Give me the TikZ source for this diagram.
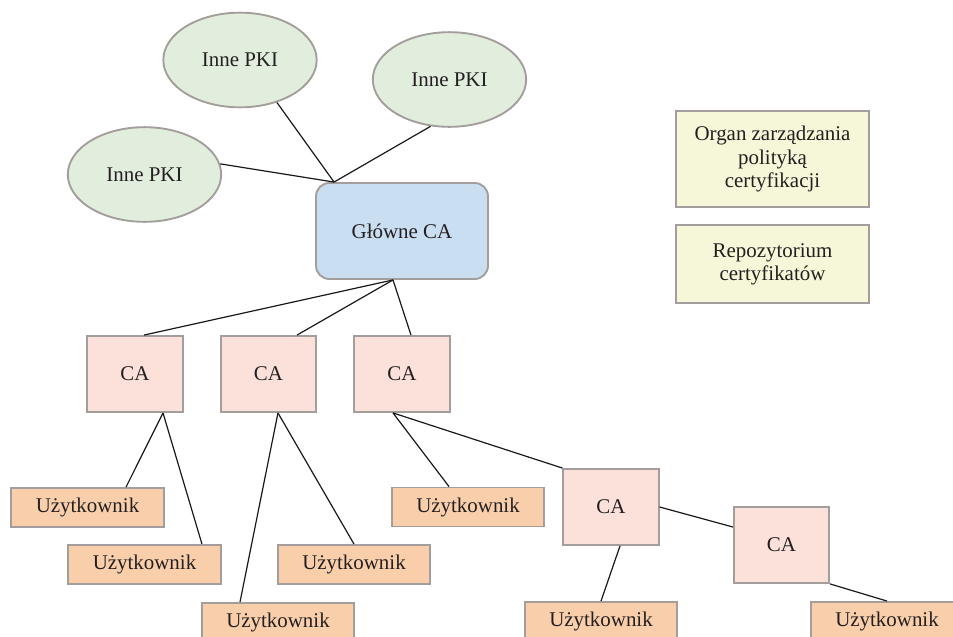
\documentclass[tikz,border=0pt]{standalone}
\usepackage{fontspec}
\setmainfont{Liberation Serif}
\usetikzlibrary{shapes.geometric}
\definecolor{edgegray}{HTML}{A39D9B}
\definecolor{pkigreen}{HTML}{E2EEDD}
\definecolor{rootblue}{HTML}{C9DEF1}
\definecolor{noteyellow}{HTML}{F6F7D8}
\definecolor{capink}{HTML}{FCE1DB}
\definecolor{userorange}{HTML}{F9CFAB}
\definecolor{inkdark}{HTML}{231F20}
\tikzset{
  every node/.style={font=\fontsize{15.7}{17.5}\selectfont, text=inkdark, align=center},
  pki/.style={ellipse, draw=edgegray, line width=1.4pt, fill=pkigreen,
    minimum width=115pt, minimum height=71pt, inner sep=0pt},
  rootca/.style={rectangle, rounded corners=10pt, draw=edgegray, line width=1.4pt,
    fill=rootblue, minimum width=129pt, minimum height=72pt},
  note/.style={rectangle, draw=edgegray, line width=1.4pt, fill=noteyellow,
    minimum width=144.75pt, inner sep=0pt},
  cabox/.style={rectangle, draw=edgegray, line width=1.4pt, fill=capink,
    minimum width=71.5pt, minimum height=57pt},
  userbox/.style={rectangle, draw=edgegray, line width=1.4pt, fill=userorange,
    minimum width=114.5pt, minimum height=29.25pt, inner sep=0pt},
  link/.style={draw=black!90, line width=0.9pt},
}
\begin{document}
\begin{tikzpicture}[x=0.75pt, y=-0.75pt]
  \useasboundingbox (0,0) rectangle (953,636);
  \begin{scope}
  \clip (0,0) rectangle (953,636);

  % outside PKIs and the root authority
  \node[pki] (e1) at (240,60) {Inne PKI};
  \node[pki] (e2) at (449.5,79.5) {Inne PKI};
  \node[pki] (e3) at (144.5,174.5) {Inne PKI};
  \node[rootca] (root) at (402,231) {Główne CA};

  % policy authority and repository
  \node[note, minimum height=72pt] (pol) at (772.5,159) {Organ zarządzania\\polityką\\certyfikacji};
  \node[note, minimum height=58.5pt] (repo) at (772.5,264) {Repozytorium\\certyfikatów};

  % subordinate authorities
  \node[cabox] (ca1) at (135,374) {CA};
  \node[cabox] (ca2) at (268.5,374) {CA};
  \node[cabox] (ca3) at (402,374) {CA};
  \node[cabox] (ca5) at (611,507) {CA};
  \node[cabox] (ca4) at (781.5,545) {CA};

  % end users
  \node[userbox] (u1) at (87.5,507.5) {Użytkownik};
  \node[userbox] (u2) at (144.5,564.5) {Użytkownik};
  \node[userbox] (u3) at (278,622.5) {Użytkownik};
  \node[userbox] (u4) at (354,564.5) {Użytkownik};
  \node[userbox] (u5) at (468,507) {Użytkownik};
  \node[userbox] (u6) at (601,621.5) {Użytkownik};
  \node[userbox] (u7) at (887,621.5) {Użytkownik};

  % cross links to the root
  \coordinate (rtop) at ([xshift=14.25pt]root.north west);
  \draw[link] (e1.-49) -- (rtop);
  \draw[link] (e2.248) -- (rtop);
  \draw[link] (e3.8) -- (rtop);

  % hierarchy
  \coordinate (rbot) at ([xshift=-6.75pt]root.south);
  \draw[link] (rbot) -- ([xshift=6.75pt]ca1.north);
  \draw[link] (rbot) -- ([xshift=21.4pt]ca2.north);
  \draw[link] (rbot) -- ([xshift=6.75pt]ca3.north);

  \draw[link] ([xshift=21pt]ca1.south) -- ([xshift=28.9pt]u1.north);
  \draw[link] ([xshift=21pt]ca1.south) -- ([xshift=43.1pt]u2.north);

  \draw[link] ([xshift=7.1pt]ca2.south) -- ([xshift=-28.5pt]u3.north);
  \draw[link] ([xshift=7.1pt]ca2.south) -- (u4.north);

  \draw[link] ([xshift=-6.75pt]ca3.south) -- ([xshift=-14.25pt]u5.north);
  \draw[link] ([xshift=-6.75pt]ca3.south) -- (ca5.north west);

  \draw[link] (ca5.east) -- ([yshift=13.5pt]ca4.west);
  \draw[link] ([xshift=6.75pt]ca5.south) -- (u6.north);
  \draw[link] (ca4.south east) -- (u7.north);
  \end{scope}
\end{tikzpicture}
\end{document}
